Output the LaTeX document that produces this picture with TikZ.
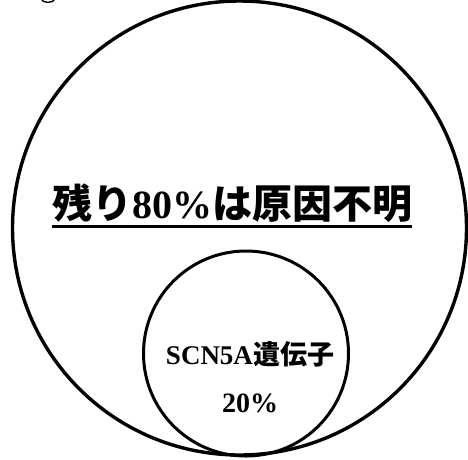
\documentclass[tikz,border=0pt]{standalone}
\usepackage{fontspec}
\setmainfont{Liberation Serif}
\newfontfamily\jp{Noto Sans CJK JP}
\tikzset{
  ring/.style={draw=black, circle, inner sep=0pt, fill=none},
  lbl/.style={inner sep=0pt, anchor=base, text=black},
}
\begin{document}
\begin{tikzpicture}[x=1pt,y=-1pt]
\useasboundingbox (0,0) rectangle (468,459);
% fragment of a glyph cut by the top edge
\draw[line width=1.4pt] (41,-1) .. controls (43,3.5) and (53,3.5) .. (55,-1);
\node[ring, line width=3.4pt, minimum size=454pt] (outer) at (239.5,228) {};
\node[ring, line width=3pt, minimum size=205pt] (inner) at (246,353.5) {};
\node[lbl, font=\fontsize{40}{40}\selectfont\bfseries] (rest) at (232,218)
  {{\jp 残り}80\%{\jp は原因不明}};
\draw[line width=3pt] (52,226) -- (412,226);
\node[lbl, font=\fontsize{27}{27}\selectfont\bfseries] (gene) at (250,364)
  {SCN5A{\jp 遺伝子}};
\node[lbl, font=\fontsize{28}{28}\selectfont\bfseries] (pct) at (250,412) {20\%};
\end{tikzpicture}
\end{document}
